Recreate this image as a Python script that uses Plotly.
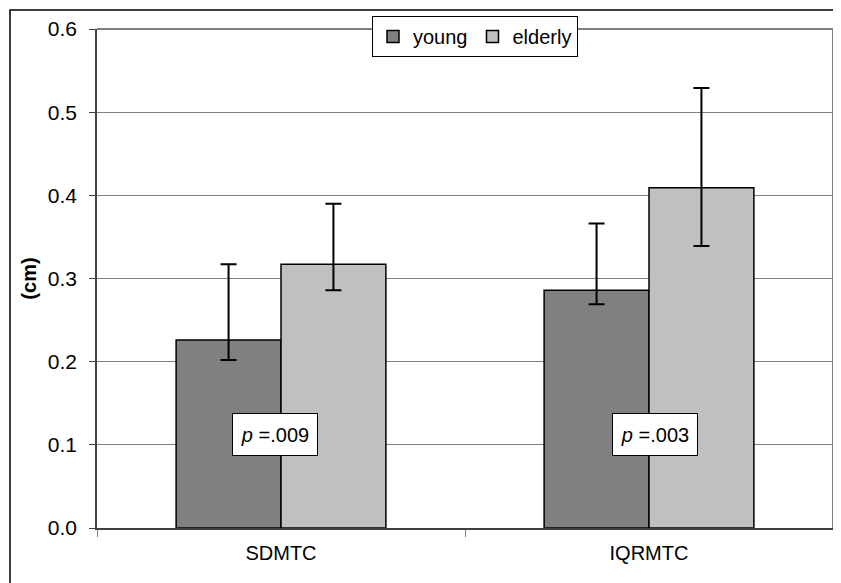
import plotly.graph_objects as go

categories = ["SDMTC", "IQRMTC"]
young = [0.226, 0.286]
young_err_plus = [0.091, 0.080]
young_err_minus = [0.024, 0.017]
elderly = [0.317, 0.409]
elderly_err_plus = [0.073, 0.120]
elderly_err_minus = [0.031, 0.070]
p_labels = ["<i>p</i> =.009", "<i>p</i> =.003"]
y_ticks = [0.0, 0.1, 0.2, 0.3, 0.4, 0.5, 0.6]

FONT = "Liberation Sans, Arial, sans-serif"

# page body has an 8px margin: figure is sized/offset to compensate
W, H = 833, 575
L, T, R, B = 89, 21, 8, 55
PW, PH = W - L - R, H - T - B


def px_to_paper_x(px):
    return (px - 8 - L) / PW


def px_to_paper_y(py):
    return (H - B - (py - 8)) / PH


fig = go.Figure()
fig.add_trace(go.Bar(
    name="young", x=categories, y=young,
    marker=dict(color="#808080", line=dict(color="black", width=1.5)),
    error_y=dict(type="data", symmetric=False, array=young_err_plus,
                 arrayminus=young_err_minus, color="black", thickness=2, width=8),
))
fig.add_trace(go.Bar(
    name="elderly", x=categories, y=elderly,
    marker=dict(color="#C0C0C0", line=dict(color="black", width=1.5)),
    error_y=dict(type="data", symmetric=False, array=elderly_err_plus,
                 arrayminus=elderly_err_minus, color="black", thickness=2, width=8),
))

shifts = [-6, 6]
for cat, lab, sh in zip(categories, p_labels, shifts):
    fig.add_annotation(
        x=cat, y=0.112, text=lab, showarrow=False, xshift=sh,
        font=dict(family=FONT, size=20, color="black"),
        width=76, height=33,
        bgcolor="white", bordercolor="black", borderwidth=1, borderpad=4,
    )

# outer chart frame (top and left visible)
fig.add_shape(type="rect", xref="paper", yref="paper",
              x0=px_to_paper_x(10), x1=px_to_paper_x(900),
              y0=px_to_paper_y(650), y1=px_to_paper_y(10),
              line=dict(color="black", width=1.5), fillcolor="rgba(0,0,0,0)",
              layer="below")

fig.update_layout(
    width=W, height=H,
    margin=dict(l=L, r=R, t=T, b=B, autoexpand=False),
    paper_bgcolor="white", plot_bgcolor="white",
    barmode="group", bargap=0.43, bargroupgap=0,
    font=dict(family=FONT, size=20, color="black"),
    showlegend=True,
    legend=dict(
        orientation="h", x=px_to_paper_x(475), xanchor="center",
        y=px_to_paper_y(16), yanchor="top",
        bgcolor="white", bordercolor="black", borderwidth=1,
        font=dict(family=FONT, size=20, color="black"),
        itemwidth=30, tracegroupgap=0,
    ),
    xaxis=dict(
        showline=True, linecolor="#404040", linewidth=1.5, mirror=False,
        ticks="outside", tickson="boundaries", ticklen=7, tickcolor="#808080",
        tickfont=dict(family=FONT, size=20), ticklabelstandoff=6,
        showgrid=False, automargin=False,
    ),
    yaxis=dict(
        range=[0, 0.6], tickvals=y_ticks, tickformat=".1f",
        showline=True, linecolor="#404040", linewidth=1.5,
        ticks="outside", ticklen=6, tickcolor="#404040",
        tickfont=dict(family=FONT, size=21), ticklabelstandoff=8,
        showgrid=True, gridcolor="#808080", gridwidth=1,
        zeroline=False, automargin=False,
        title=dict(text="<b>(cm)</b>", font=dict(family=FONT, size=20), standoff=6),
    ),
)

# plot-area border on top and right (gray)
fig.add_shape(type="line", xref="paper", yref="paper", x0=0, x1=1, y0=1, y1=1,
              line=dict(color="#808080", width=2))
fig.add_shape(type="line", xref="paper", yref="paper", x0=1, x1=1, y0=0, y1=1,
              line=dict(color="#808080", width=2))

fig.write_html("out.html")
